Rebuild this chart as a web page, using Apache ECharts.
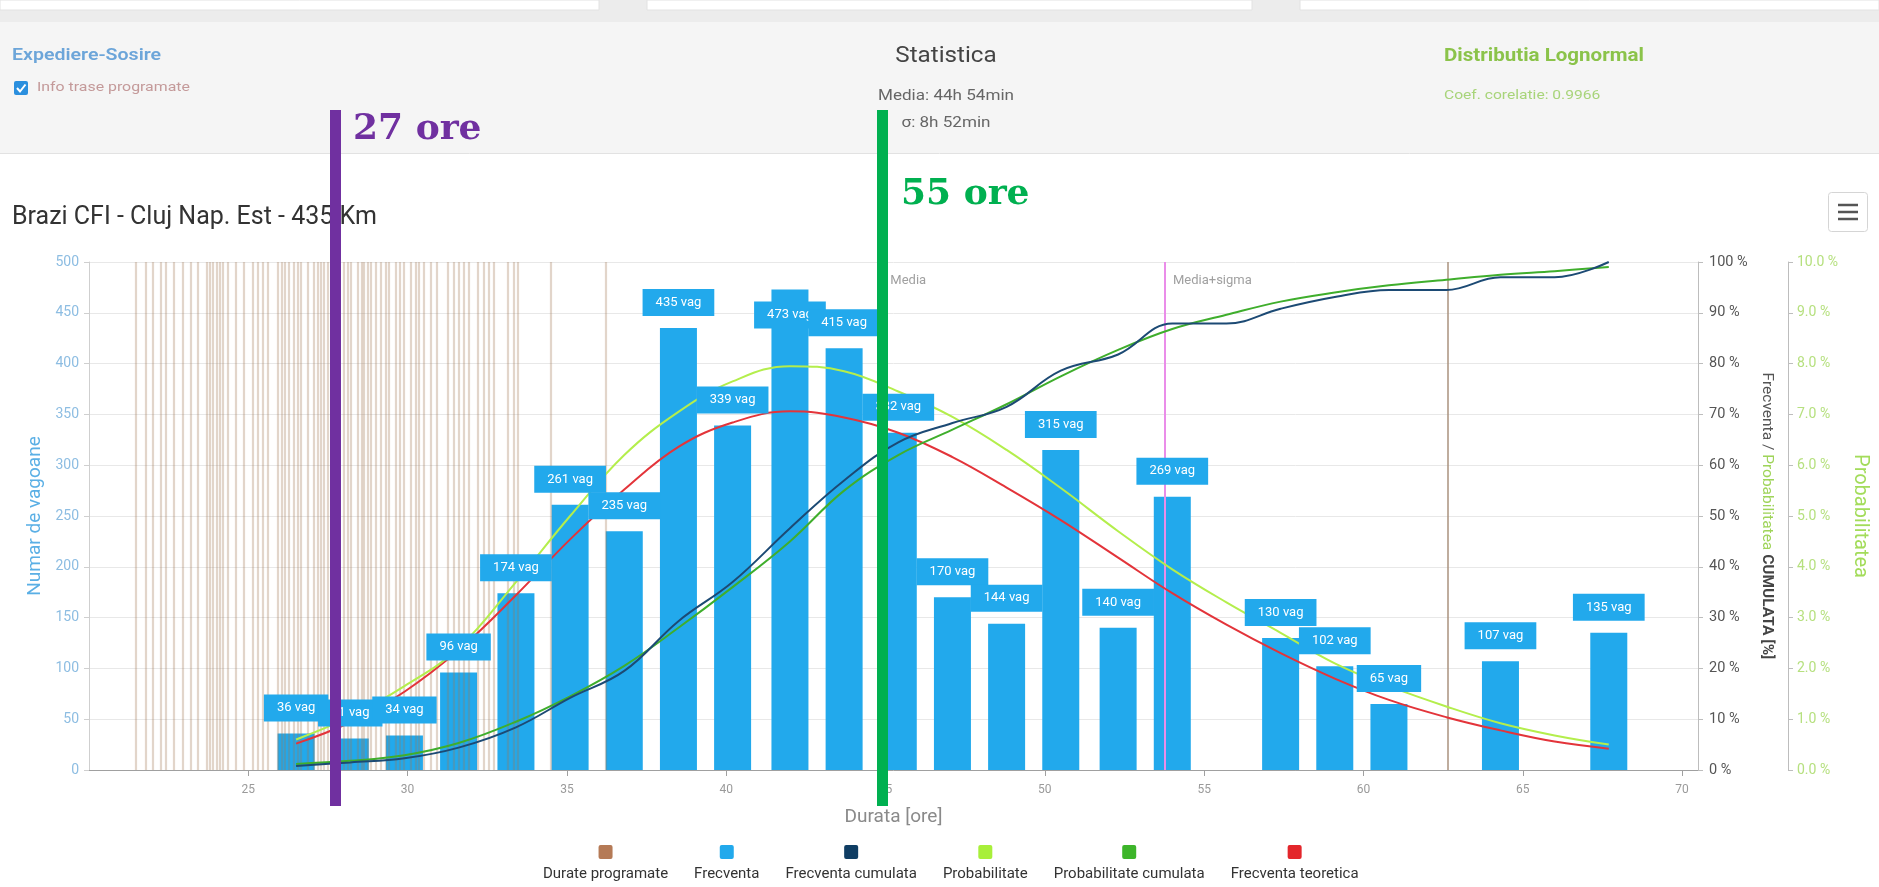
<!DOCTYPE html>
<html>
<head>
<meta charset="utf-8">
<script src="https://cdn.jsdelivr.net/npm/echarts@6/dist/echarts.min.js"></script>
<style>
html,body{margin:0;padding:0;background:#fff;}
#chart{width:1879px;height:887px;}
</style>
</head>
<body>
<div id="chart"></div>
<script>
// ---- data ----
const binHours = [26.5, 28.2, 29.9, 31.6, 33.4, 35.1, 36.8, 38.5, 40.2, 42.0, 43.7, 45.4, 47.1, 48.8, 50.5, 52.3, 54.0, 55.7, 57.4, 59.1, 60.8, 62.6, 64.3, 66.0, 67.7];
const frecventa = [36, 31, 34, 96, 174, 261, 235, 435, 339, 473, 415, 332, 170, 144, 315, 140, 269, null, 130, 102, 65, null, 107, null, 135];
const frecventaCumulata = [0.8, 1.5, 2.3, 4.4, 8.4, 14.2, 19.5, 29.3, 37.0, 47.6, 57.0, 64.5, 68.3, 71.5, 78.6, 81.8, 87.9, 87.9, 90.8, 93.1, 94.5, 94.5, 97.0, 97.0, 100];
const probabilitate = [0.6, 1.05, 1.65, 2.4, 3.7, 5.0, 6.2, 7.05, 7.65, 7.95, 7.85, 7.45, 6.95, 6.3, 5.55, 4.7, 3.95, 3.3, 2.7, 2.1, 1.65, 1.25, 0.92, 0.68, 0.5];
const probabilitateCumulata = [1.2, 1.8, 2.9, 5.3, 9.5, 14.5, 20.5, 28, 36, 45, 55, 62, 67, 72, 77.5, 82.7, 86.8, 89.6, 92.2, 94.0, 95.4, 96.5, 97.5, 98.2, 99.0];
const frecventaTeoretica = [26, 47, 77, 118, 172, 227, 276, 318, 342, 353, 347, 332, 308, 278, 246, 209, 174, 143, 115, 90, 69, 52, 39, 28, 21];
const durateProgramate = [21.47, 21.78, 22.0, 22.25, 22.41, 22.66, 22.94, 23.19, 23.41, 23.7, 23.8, 23.89, 24.0, 24.1, 24.2, 24.36, 24.61, 24.86, 25.14, 25.3, 25.46, 25.61, 25.93, 26.05, 26.15, 26.27, 26.43, 26.55, 26.65, 26.87, 27.06, 27.18, 27.28, 27.37, 27.5, 27.75, 28.0, 28.12, 28.22, 28.44, 28.55, 28.63, 28.75, 28.85, 29.0, 29.16, 29.3, 29.41, 29.63, 29.75, 29.88, 30.1, 30.26, 30.35, 30.51, 30.73, 30.9, 31.26, 31.45, 31.61, 31.77, 31.92, 32.21, 32.4, 32.55, 32.71, 33.15, 33.34, 33.46, 34.5, 36.22];
const statLines = [44.9, 53.77, 62.63];
const statLabels = ['Media', 'Media+sigma', ''];
const legendNames = ['Durate programate', 'Frecventa', 'Frecventa cumulata', 'Probabilitate', 'Probabilitate cumulata', 'Frecventa teoretica'];
const legendColors = ['#b57a56', '#22a9ec', '#0f3d63', '#a8ef3a', '#3db52a', '#e3262b'];

// ---- chart ----
const FONT = 'Roboto, sans-serif';
const chart = echarts.init(document.getElementById('chart'), null, {renderer: 'canvas', width: 1879, height: 887});

const barData = [];
binHours.forEach((h, i) => { if (frecventa[i] != null) barData.push([h, frecventa[i]]); });
const labelData = barData.map(d => d[1] >= 460
  ? {value: d, label: {position: 'bottom', distance: 12}}
  : {value: d});
const pairs = arr => binHours.map((h, i) => [h, arr[i]]);

const rich = {t: {fontSize: 15, color: '#333', fontFamily: FONT, lineHeight: 24, align: 'center'}};
legendColors.forEach((c, i) => {
  rich['s' + i] = {width: 14, height: 14, backgroundColor: c, borderRadius: 2, align: 'center', lineHeight: 20};
});

const lineBase = {type: 'line', smooth: 0.4, showSymbol: false, symbol: 'none', z: 4, animation: false};

function txt(x, y, text, font, fill, align, sx) {
  return {type: 'text', silent: true, x: x, y: y, scaleX: sx || 1,
    style: {text: text, fill: fill, font: font, align: align || 'left', verticalAlign: 'middle'}};
}

const option = {
  animation: false,
  textStyle: {fontFamily: FONT},
  title: {
    text: 'Brazi CFI - Cluj Nap. Est - 435 Km', left: 7, top: 200,
    textStyle: {fontSize: 25, color: '#333', fontWeight: 'normal', fontFamily: FONT}
  },
  legend: {
    data: legendNames, left: 538, top: 845, padding: 0, itemGap: 21,
    itemWidth: 0, itemHeight: 0, icon: 'rect',
    formatter: name => '{s' + legendNames.indexOf(name) + '|}\n{t|' + name + '}',
    textStyle: {rich: rich}
  },
  grid: {left: 89, right: 181, top: 262, bottom: 117, containLabel: false, outerBoundsMode: 'none'},
  xAxis: {
    type: 'value', min: 20, max: 70.5, interval: 5,
    name: 'Durata [ore]', nameLocation: 'middle', nameGap: 38,
    nameTextStyle: {color: '#8a8a8a', fontSize: 19, fontFamily: FONT},
    axisLine: {show: true, lineStyle: {color: '#a0a0a0'}},
    axisTick: {show: true, length: 6, lineStyle: {color: '#a0a0a0'}},
    axisLabel: {color: '#9a9a9a', fontSize: 12, margin: 14, showMinLabel: false, showMaxLabel: false},
    splitLine: {show: false}
  },
  yAxis: [
    {
      type: 'value', position: 'left', min: 0, max: 500, interval: 50,
      name: 'Numar de vagoane', nameLocation: 'middle', nameGap: 43, nameRotate: 90,
      nameTextStyle: {color: '#5aafe5', fontSize: 19, fontFamily: FONT},
      axisLine: {show: true, lineStyle: {color: '#cfcfcf'}},
      axisTick: {show: true, length: 5, lineStyle: {color: '#cfcfcf'}},
      axisLabel: {color: '#8dbde2', fontSize: 14, margin: 10},
      splitLine: {show: true, lineStyle: {color: '#e8e8e8'}}
    },
    {
      type: 'value', position: 'right', min: 0, max: 100, interval: 10,
      name: '{a|Frecventa / }{b|Probabilitatea}{c| CUMULATA [%]}',
      nameLocation: 'middle', nameGap: 56, nameRotate: -90,
      nameTextStyle: {rich: {
        a: {color: '#555', fontSize: 15.5, fontFamily: FONT},
        b: {color: '#9fd45a', fontSize: 15.5, fontFamily: FONT},
        c: {color: '#444', fontSize: 15.5, fontWeight: 'bold', fontFamily: FONT}
      }},
      axisLine: {show: true, lineStyle: {color: '#bdbdbd'}},
      axisTick: {show: true, length: 5, lineStyle: {color: '#bdbdbd'}},
      axisLabel: {color: '#555', fontSize: 14.5, margin: 11, formatter: '{value} %'},
      splitLine: {show: false}
    },
    {
      type: 'value', position: 'right', offset: 90, min: 0, max: 10, interval: 1,
      name: 'Probabilitatea', nameLocation: 'middle', nameGap: 62, nameRotate: -90,
      nameTextStyle: {color: '#a3dc5a', fontSize: 20, fontFamily: FONT},
      axisLine: {show: true, lineStyle: {color: '#bdbdbd'}},
      axisTick: {show: true, length: 5, lineStyle: {color: '#bdbdbd'}},
      axisLabel: {color: '#b6e07f', fontSize: 14, margin: 9, formatter: v => v.toFixed(1) + ' %'},
      splitLine: {show: false}
    }
  ],
  series: [
    {
      name: 'Frecventa', type: 'bar', data: barData, barWidth: 37, z: 2,
      itemStyle: {color: '#22a9ec'}, label: {show: false}, animation: false
    },
    {
      name: 'Durate programate', type: 'line', data: [], z: 3,
      markLine: {
        z: 3, silent: true, animation: false, symbol: ['none', 'none'],
        label: {show: false}, emphasis: {disabled: true},
        lineStyle: {color: 'rgba(160,115,80,0.3)', width: 2.2, type: 'solid'},
        data: durateProgramate.map(v => ({xAxis: v}))
      }
    },
    {
      name: 'Statistici', type: 'line', data: [], z: 3,
      markLine: {
        z: 3, silent: true, animation: false, symbol: ['none', 'none'],
        label: {show: false}, emphasis: {disabled: true},
        data: statLines.map((v, i) => ({xAxis: v, lineStyle: {
          color: i === 1 ? '#ea8de9' : 'rgba(170,145,125,0.75)', width: 2, type: 'solid'}}))
      },
      markPoint: {
        z: 3, silent: true, animation: false, symbol: 'circle', symbolSize: 0,
        label: {show: true, position: 'right', distance: 8, color: '#a0a0a0', fontSize: 13, formatter: p => p.name},
        data: statLines.map((v, i) => ({name: statLabels[i], coord: [v, 482]})).filter(d => d.name)
      }
    },
    Object.assign({}, lineBase, {name: 'Frecventa teoretica', yAxisIndex: 0, data: pairs(frecventaTeoretica), lineStyle: {color: '#e3343a', width: 2}, itemStyle: {color: '#e3262b'}}),
    Object.assign({}, lineBase, {name: 'Probabilitate', yAxisIndex: 2, data: pairs(probabilitate), lineStyle: {color: '#b4ee4c', width: 2}, itemStyle: {color: '#a8ef3a'}}),
    Object.assign({}, lineBase, {name: 'Probabilitate cumulata', yAxisIndex: 1, data: pairs(probabilitateCumulata), lineStyle: {color: '#3fae2c', width: 2}, itemStyle: {color: '#3db52a'}}),
    Object.assign({}, lineBase, {name: 'Frecventa cumulata', yAxisIndex: 1, data: pairs(frecventaCumulata), lineStyle: {color: '#1c4a74', width: 2}, itemStyle: {color: '#0f3d63'}}),
    {
      name: 'Frecventa', type: 'scatter', data: labelData, symbolSize: 0, z: 6,
      itemStyle: {color: 'rgba(0,0,0,0)', opacity: 1}, silent: true, animation: false,
      emphasis: {disabled: true},
      label: {
        show: true, position: 'top', distance: 12, opacity: 1,
        formatter: p => p.value[1] + ' vag',
        color: '#fff', backgroundColor: '#22a9ec', padding: [6, 13],
        fontSize: 13, lineHeight: 15, fontFamily: FONT
      }
    }
  ],
  graphic: [
    // page header strip & statistics panel
    {type: 'rect', z: -5, silent: true, shape: {x: 0, y: 0, width: 1879, height: 22}, style: {fill: '#ececec'}},
    {type: 'rect', z: -4, silent: true, shape: {x: 0, y: 0, width: 599, height: 10}, style: {fill: '#fff', stroke: '#e2e2e2'}},
    {type: 'rect', z: -4, silent: true, shape: {x: 647, y: 0, width: 605, height: 10}, style: {fill: '#fff', stroke: '#e2e2e2'}},
    {type: 'rect', z: -4, silent: true, shape: {x: 1300, y: 0, width: 579, height: 10}, style: {fill: '#fff', stroke: '#e2e2e2'}},
    {type: 'rect', z: -5, silent: true, shape: {x: 0, y: 22, width: 1879, height: 131}, style: {fill: '#f5f5f5'}},
    {type: 'line', z: -4, silent: true, shape: {x1: 0, y1: 153.5, x2: 1879, y2: 153.5}, style: {stroke: '#e2e2e2', lineWidth: 1}},
    txt(12, 56, 'Expediere-Sosire', '600 17px Roboto, sans-serif', '#6ca5d9', 'left', 1.15),
    {type: 'rect', silent: true, shape: {x: 14, y: 81, width: 14, height: 14, r: 2}, style: {fill: '#2b8fde'}},
    {type: 'polyline', silent: true, shape: {points: [[17, 88], [20, 91.5], [25.5, 84.5]]}, style: {stroke: '#fff', lineWidth: 2, fill: null}},
    txt(37, 88, 'Info trase programate', '13px Roboto, sans-serif', '#c49a9a', 'left', 1.22),
    txt(946, 56, 'Statistica', '22px Roboto, sans-serif', '#444', 'center', 1.1),
    txt(946, 96, 'Media: 44h 54min', '14px Roboto, sans-serif', '#666', 'center', 1.22),
    txt(946, 123, 'σ: 8h 52min', '14px Roboto, sans-serif', '#666', 'center', 1.22),
    txt(1444, 56, 'Distributia Lognormal', 'bold 18px Roboto, sans-serif', '#8bc34a', 'left', 1.14),
    txt(1444, 96, 'Coef. corelatie: 0.9966', '13px Roboto, sans-serif', '#a8d47a', 'left', 1.2),
    // export menu button
    {type: 'rect', silent: true, shape: {x: 1828.5, y: 192.5, width: 39, height: 39, r: 3}, style: {fill: '#fff', stroke: '#d5d5d5'}},
    {type: 'line', silent: true, shape: {x1: 1838, y1: 205, x2: 1858, y2: 205}, style: {stroke: '#555', lineWidth: 2.5}},
    {type: 'line', silent: true, shape: {x1: 1838, y1: 212, x2: 1858, y2: 212}, style: {stroke: '#555', lineWidth: 2.5}},
    {type: 'line', silent: true, shape: {x1: 1838, y1: 219, x2: 1858, y2: 219}, style: {stroke: '#555', lineWidth: 2.5}},
    // hand-drawn annotations over the screenshot
    {type: 'rect', z: 100, silent: true, shape: {x: 330, y: 110, width: 11, height: 696}, style: {fill: '#7030a0'}},
    {type: 'text', z: 100, silent: true, x: 353, y: 130, style: {text: '27 ore', fill: '#7030a0', font: 'bold 36px "DejaVu Serif", serif', verticalAlign: 'middle'}},
    {type: 'rect', z: 100, silent: true, shape: {x: 877, y: 110, width: 11, height: 696}, style: {fill: '#00b050'}},
    {type: 'text', z: 100, silent: true, x: 901, y: 195, style: {text: '55 ore', fill: '#00b050', font: 'bold 36px "DejaVu Serif", serif', verticalAlign: 'middle'}}
  ]
};
chart.setOption(option);
</script>
</body>
</html>
